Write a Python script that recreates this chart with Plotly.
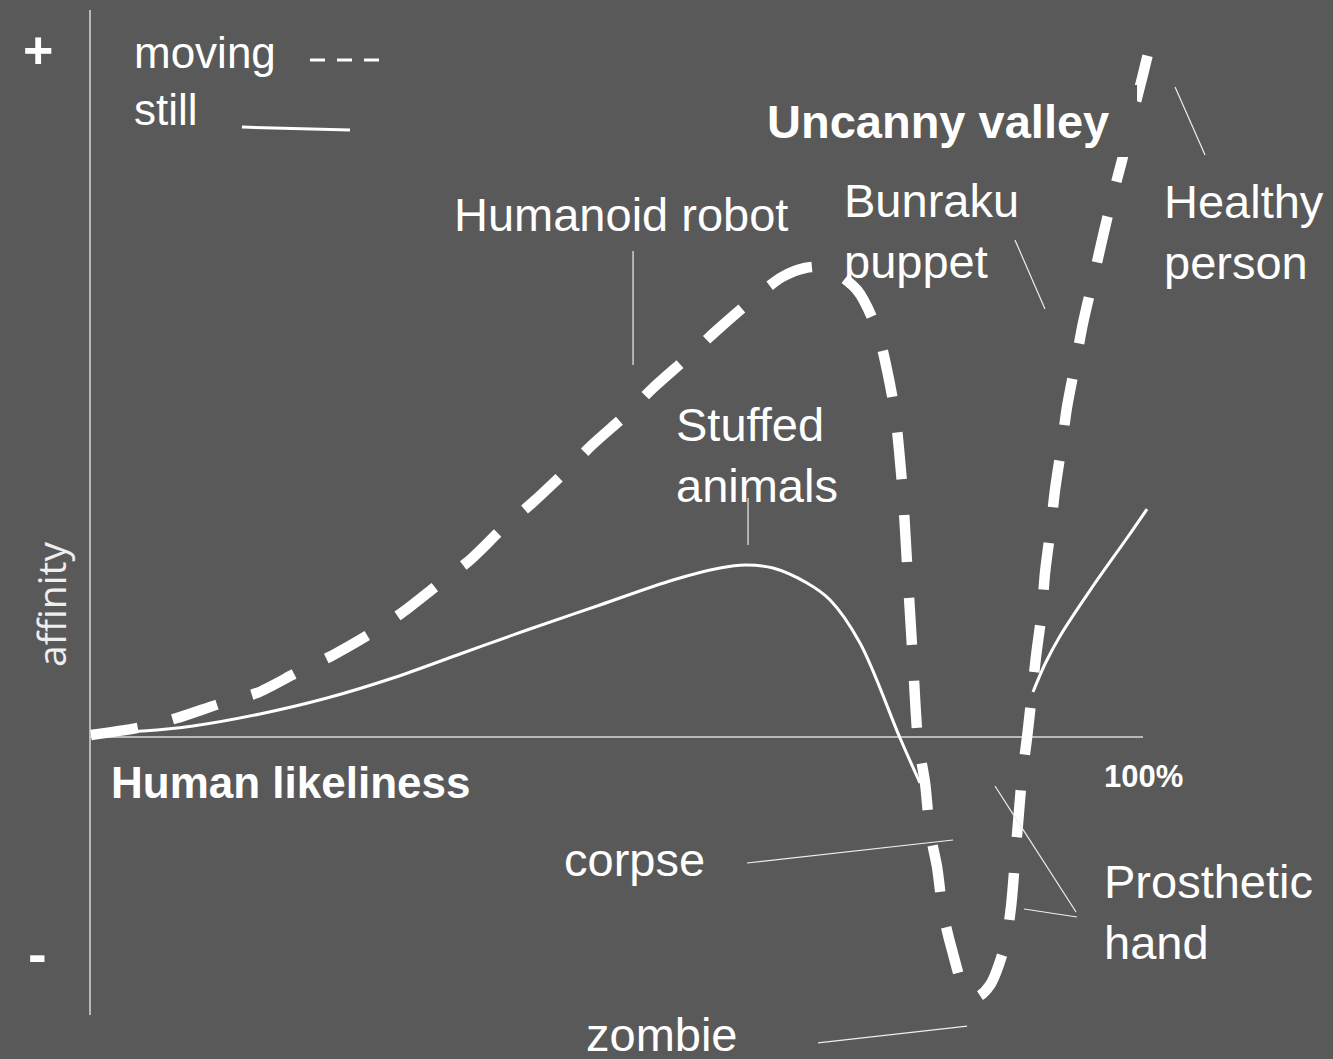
import plotly.graph_objects as go

# human likeness in %, affinity in arbitrary units (0 = neutral)
still_likeness_a = [0.1, 5.03, 9.78, 16.14, 22.51, 28.77, 35.14, 41.5, 48.43, 55.37,
                    59.83, 62.2, 64.86, 68.09, 70.28, 73.12, 76.92, 78.82]
still_affinity_a = [0.57, 0.86, 1.57, 3.29, 5.57, 8.43, 11.86, 15.29, 18.86, 22.43,
                    24.14, 24.57, 24.14, 22.0, 19.57, 13.43, -0.14, -6.57]

still_likeness_b = [89.55, 90.69, 92.12, 95.25, 98.48, 100.38]
still_affinity_b = [6.43, 10.43, 14.43, 21.57, 28.43, 32.57]

moving_likeness = [0.09, 4.94, 8.26, 12.54, 15.86, 19.75, 23.08, 26.88, 29.72, 33.24,
                   36.09, 39.22, 41.98, 45.3, 47.67, 51.09, 53.47, 56.79, 59.35, 62.87,
                   65.72, 67.9, 69.99, 72.84, 74.74, 75.69, 76.45, 76.83, 77.21, 77.68,
                   78.16, 78.63, 79.3, 79.77, 80.44, 81.01, 81.86, 83.1, 84.24, 85.47,
                   86.89, 87.46, 87.84, 88.13, 88.51, 88.98, 89.46, 89.84, 90.41, 90.69,
                   91.26, 91.64, 92.31, 92.78, 93.64, 94.3, 95.25, 96.11, 97.06, 98.01,
                   98.96, 99.91, 100.95]
moving_affinity = [0.29, 1.43, 2.71, 4.86, 6.29, 9.29, 11.71, 15.0, 17.86, 22.0,
                   25.29, 29.86, 33.43, 38.14, 41.71, 46.29, 49.86, 54.29, 57.86, 62.43,
                   65.71, 67.0, 67.0, 63.86, 58.14, 52.43, 46.29, 41.0, 34.29, 22.43,
                   10.57, -0.43, -6.57, -13.57, -18.57, -25.14, -30.43, -36.14, -37.14, -35.43,
                   -29.71, -24.29, -17.57, -12.29, -5.71, -0.14, 6.29, 11.57, 18.14, 23.43,
                   30.14, 35.29, 42.0, 47.14, 53.86, 59.14, 65.29, 71.0, 77.0, 82.43,
                   88.57, 94.14, 100.57]

# (text, x, y, size, bold)
labels = [
    ("moving", 4.0, 97.86, 44, False),
    ("still", 4.0, 89.71, 44, False),
    ("Humanoid robot", 34.36, 74.71, 47, False),
    ("Bunraku<br>puppet", 71.4, 72.36, 47, False),
    ("Healthy<br>person", 101.79, 72.21, 47, False),
    ("Stuffed<br>animals", 55.45, 40.29, 47, False),
    ("Prosthetic<br>hand", 96.09, -25.07, 47, False),
    ("corpse", 44.81, -17.43, 47, False),
    ("zombie", 46.9, -42.5, 47, False),
    ("Uncanny valley", 64.09, 88.0, 47, True),
    ("Human likeliness", 1.79, -6.43, 44, True),
    ("100%", 96.09, -5.57, 31, True),
]

# pointer lines from labels to the curves
pointers = [
    (51.57, 69.43, 51.57, 53.14),
    (62.49, 34.14, 62.49, 27.43),
    (87.84, 71.0, 90.69, 61.14),
    (103.04, 92.86, 105.89, 83.14),
    (62.39, -18.0, 81.96, -14.71),
    (69.14, -43.71, 83.29, -41.29),
    (85.94, -7.0, 93.64, -25.0),
    (88.7, -24.57, 93.73, -25.71),
]

BG = "#595959"
FONT = "Liberation Sans, Arial, sans-serif"

fig = go.Figure()

fig.add_trace(go.Scatter(
    x=still_likeness_a, y=still_affinity_a, mode="lines",
    line=dict(color="white", width=3, shape="spline", smoothing=1.0),
    hoverinfo="skip", showlegend=False,
))
fig.add_trace(go.Scatter(
    x=still_likeness_b, y=still_affinity_b, mode="lines",
    line=dict(color="white", width=3, shape="spline", smoothing=1.0),
    hoverinfo="skip", showlegend=False,
))
fig.add_trace(go.Scatter(
    x=moving_likeness, y=moving_affinity, mode="lines",
    line=dict(color="white", width=10.5, dash="47px,36px", shape="spline", smoothing=0.8),
    hoverinfo="skip", showlegend=False,
))

# legend samples
fig.add_trace(go.Scatter(
    x=[20.89, 27.73], y=[96.71, 96.71], mode="lines",
    line=dict(color="white", width=3, dash="15px,12px"),
    hoverinfo="skip", showlegend=False,
))
fig.add_trace(go.Scatter(
    x=[14.43, 24.69], y=[87.14, 86.71], mode="lines",
    line=dict(color="white", width=3),
    hoverinfo="skip", showlegend=False,
))

# axes
fig.add_shape(type="line", x0=0, x1=0, y0=-39.71, y1=103.86,
              line=dict(color="#d9d9d9", width=1.5), layer="below")
fig.add_shape(type="line", x0=0, x1=100, y0=0, y1=0,
              line=dict(color="#d9d9d9", width=1.5), layer="below")

for x0, y0, x1, y1 in pointers:
    fig.add_shape(type="line", x0=x0, y0=y0, x1=x1, y1=y1,
                  line=dict(color="#eeeeee", width=1.2))

# the "Uncanny valley" text box hides part of the curve
fig.add_shape(type="rect", x0=61.92, x1=99.43, y0=82.86, y1=93.14,
              fillcolor=BG, line=dict(width=0), layer="above")

for text, x, y, size, bold in labels:
    fig.add_annotation(
        x=x, y=y, text=f"<b>{text}</b>" if bold else text,
        showarrow=False, xanchor="left", yanchor="middle", align="left",
        font=dict(family=FONT, size=size, color="white"),
    )

fig.add_annotation(x=-4.94, y=98.14, text="<b>+</b>", showarrow=False,
                   xanchor="center", yanchor="middle",
                   font=dict(family=FONT, size=52, color="white"))
fig.add_annotation(x=-5.03, y=-30.9, text="<b>-</b>", showarrow=False,
                   xanchor="center", yanchor="middle",
                   font=dict(family=FONT, size=56, color="white"))
fig.add_annotation(x=-3.8, y=19.0, text="affinity", showarrow=False, textangle=-90,
                   xanchor="center", yanchor="middle",
                   font=dict(family="Open Sans, sans-serif", size=39, color="#eeeeee"))

fig.update_layout(
    width=1333,
    height=1059,
    margin=dict(l=0, r=0, t=0, b=0),
    paper_bgcolor=BG,
    plot_bgcolor=BG,
    xaxis=dict(range=[-8.547, 118.04], visible=False, fixedrange=True),
    yaxis=dict(range=[-46.0, 105.29], visible=False, fixedrange=True),
)

fig.write_html("out.html", config={"displayModeBar": False},
               post_script="document.body.style.margin='0px';")
